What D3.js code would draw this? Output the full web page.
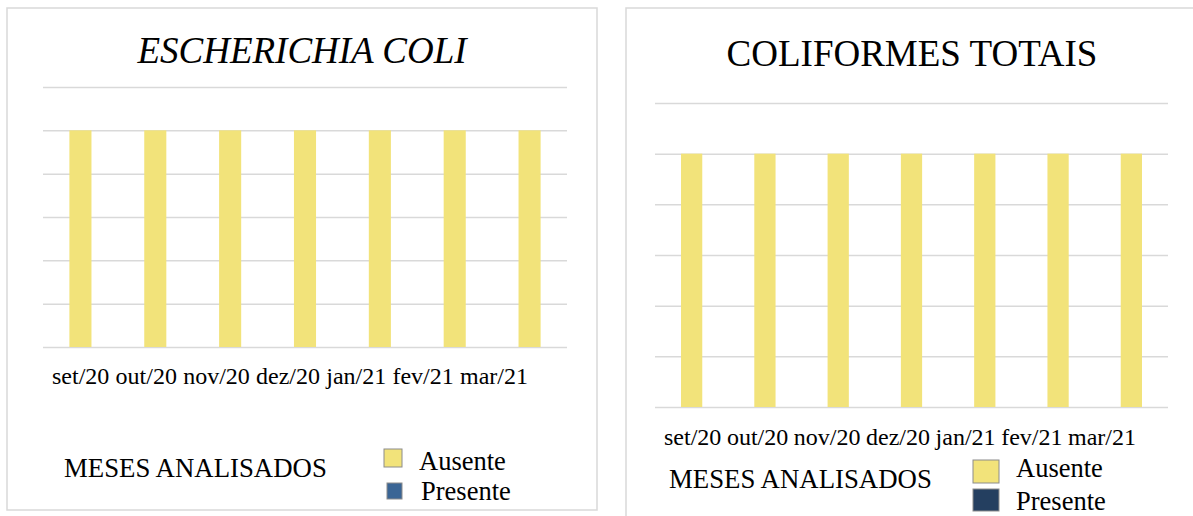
<!DOCTYPE html>
<html>
<head>
<meta charset="utf-8">
<script src="https://cdn.jsdelivr.net/npm/d3@7"></script>
<style>
  html, body { margin: 0; padding: 0; background: #ffffff; }
  svg { display: block; }
</style>
</head>
<body>
<svg id="chart" width="1193" height="516"></svg>
<script>
// ---- Data ----
const months = ["set/20", "out/20", "nov/20", "dez/20", "jan/21", "fev/21", "mar/21"];
const ecoliAusente = [1, 1, 1, 1, 1, 1, 1];
const ecoliPresente = [0, 0, 0, 0, 0, 0, 0];
const coliAusente = [1, 1, 1, 1, 1, 1, 1];
const coliPresente = [0, 0, 0, 0, 0, 0, 0];
const yTicks = [0, 0.2, 0.4, 0.6, 0.8, 1.0, 1.2];
const seriesNames = ["Ausente", "Presente"];
const xAxisTitle = "MESES ANALISADOS";

const svg = d3.select("#chart");
const FONT = "'Liberation Serif', 'Times New Roman', serif";

function drawPanel(cfg) {
  const g = svg.append("g");
  // panel border
  g.append("rect")
    .attr("x", cfg.box[0]).attr("y", cfg.box[1])
    .attr("width", cfg.box[2]).attr("height", cfg.box[3])
    .attr("fill", "#fff").attr("stroke", "#d9d9d9").attr("stroke-width", 1.5);

  // title
  g.append("text")
    .attr("x", cfg.titleX).attr("y", cfg.titleY)
    .attr("text-anchor", "middle")
    .attr("font-family", FONT).attr("font-size", cfg.titleSize)
    .attr("font-style", cfg.italic ? "italic" : "normal")
    .attr("fill", "#000")
    .text(cfg.title);

  const x = d3.scaleBand().domain(months).range([cfg.x0, cfg.x1]).paddingInner(cfg.pad).paddingOuter(cfg.pad / 2);
  const y = d3.scaleLinear().domain([0, 1.2]).range([cfg.yBase, cfg.yTop]);

  // gridlines via axis
  const grid = g.append("g")
    .attr("transform", `translate(${cfg.x0},0)`)
    .call(d3.axisLeft(y).tickValues(yTicks).tickSize(-(cfg.x1 - cfg.x0)).tickFormat(""));
  grid.select(".domain").remove();
  grid.selectAll(".tick line").attr("stroke", "#d9d9d9").attr("stroke-width", 1.5);

  // stacked bars
  const rows = months.map((m, i) => ({ month: m, Ausente: cfg.ausente[i], Presente: cfg.presente[i] }));
  const stack = d3.stack().keys(seriesNames)(rows);
  const colors = { Ausente: "#f2e37a", Presente: cfg.presColor };
  stack.forEach(layer => {
    g.append("g").selectAll("rect").data(layer).join("rect")
      .attr("x", d => x(d.data.month))
      .attr("width", x.bandwidth())
      .attr("y", d => y(d[1]))
      .attr("height", d => Math.max(0, y(d[0]) - y(d[1])))
      .attr("fill", colors[layer.key]);
  });

  // x axis labels (labels overflow their bands, so they run together as one line)
  const xa = g.append("g")
    .attr("transform", `translate(0,${cfg.yBase})`)
    .call(d3.axisBottom(x).tickSize(0));
  xa.select(".domain").remove();
  const labels = xa.selectAll(".tick text")
    .attr("font-family", FONT).attr("font-size", cfg.labelSize).attr("fill", "#000")
    .attr("dy", 0).attr("y", cfg.labelBase).attr("text-anchor", "start");
  const widths = labels.nodes().map(n => n.getComputedTextLength());
  const total = d3.sum(widths);
  const gap = (cfg.labelEnd - cfg.labelStart - total) / (months.length - 1);
  let cur = cfg.labelStart;
  labels.each(function(d, i) {
    const center = x(d) + x.bandwidth() / 2;
    d3.select(this).attr("x", cur - center);
    cur += widths[i] + gap;
  });

  // axis title
  g.append("text")
    .attr("x", cfg.axTitleX).attr("y", cfg.axTitleY)
    .attr("font-family", FONT).attr("font-size", cfg.axTitleSize).attr("fill", "#000")
    .text(xAxisTitle);

  // legend
  seriesNames.forEach((name, i) => {
    const L = cfg.legend[i];
    g.append("rect")
      .attr("x", L.sx).attr("y", L.sy).attr("width", L.sw).attr("height", L.sh)
      .attr("fill", colors[name]).attr("stroke", "#8c8c8c").attr("stroke-width", 1);
    g.append("text")
      .attr("x", L.tx).attr("y", L.ty)
      .attr("font-family", FONT).attr("font-size", cfg.legendSize).attr("fill", "#000")
      .text(name);
  });
}

drawPanel({
  box: [7, 8, 590, 502],
  title: "ESCHERICHIA COLI", italic: true, titleX: 302, titleY: 63, titleSize: 37,
  x0: 43, x1: 567, yBase: 347, yTop: 87, pad: 0.705,
  ausente: ecoliAusente, presente: ecoliPresente, presColor: "#3a6595",
  labelSize: 24, labelBase: 37, labelStart: 52, labelEnd: 528,
  axTitleX: 64, axTitleY: 477, axTitleSize: 26.8,
  legendSize: 26.5,
  legend: [
    { sx: 384, sy: 449, sw: 18, sh: 18, tx: 419, ty: 470 },
    { sx: 387, sy: 483, sw: 15, sh: 16, tx: 421, ty: 500 }
  ]
});

drawPanel({
  box: [626, 8, 600, 520],
  title: "COLIFORMES TOTAIS", italic: false, titleX: 912, titleY: 66, titleSize: 37,
  x0: 655, x1: 1168, yBase: 407, yTop: 103, pad: 0.71,
  ausente: coliAusente, presente: coliPresente, presColor: "#243f60",
  labelSize: 24, labelBase: 38, labelStart: 664, labelEnd: 1136,
  axTitleX: 669, axTitleY: 488, axTitleSize: 26.8,
  legendSize: 26.5,
  legend: [
    { sx: 973, sy: 460, sw: 26, sh: 23, tx: 1016, ty: 477 },
    { sx: 973, sy: 489, sw: 26, sh: 22, tx: 1016, ty: 510 }
  ]
});
</script>
</body>
</html>
